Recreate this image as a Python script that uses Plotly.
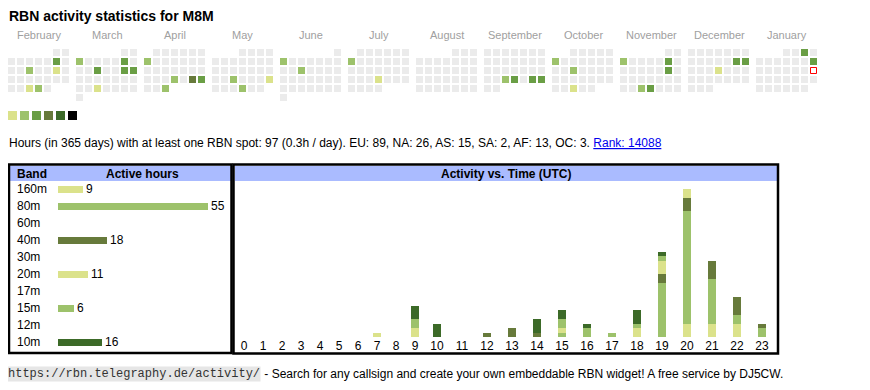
import datetime as dt
import plotly.graph_objects as go

OFF = 8                      # page body margin
W, H = 862, 382              # figure size inside the 870x390 window
FONT = "Liberation Sans, Arial, sans-serif"

# ---------------- data ----------------
title = "RBN activity statistics for M8M"
month_labels = ["February", "March", "April", "May", "June", "July", "August",
                "September", "October", "November", "December", "January"]
cal_start = "2025-02-01"
cal_end = "2026-01-31"
today = "2026-01-18"

active_dates = ["2025-02-08", "2025-02-12", "2025-02-15", "2025-02-26", "2025-02-27",
                "2025-03-03", "2025-03-08", "2025-03-12", "2025-03-15", "2025-03-16", "2025-03-26",
                "2025-04-07", "2025-04-24", "2025-04-26", "2025-04-27", "2025-04-30",
                "2025-05-21", "2025-05-25", "2025-05-29",
                "2025-06-02", "2025-06-11",
                "2025-07-07", "2025-07-24",
                "2025-09-24", "2025-09-25", "2025-09-27", "2025-09-28",
                "2025-10-06", "2025-10-15", "2025-10-29",
                "2025-11-03", "2025-11-08", "2025-11-15", "2025-11-26", "2025-11-27",
                "2025-12-13", "2025-12-14", "2025-12-18",
                "2026-01-03", "2026-01-11"]
active_levels = [3, 2, 1, 1, 2,
                 2, 3, 3, 3, 3, 1,
                 2, 2, 4, 3, 2,
                 2, 1, 2,
                 2, 2,
                 2, 1,
                 2, 3, 3, 3,
                 2, 2, 1,
                 2, 3, 3, 2, 3,
                 3, 3, 1,
                 3, 3]

level_colors = ["#dbe28b", "#9dc26b", "#6a9e45", "#677a3b", "#3c6a28", "#000000"]
empty_color = "#ebebeb"

summary = ("Hours (in 365 days) with at least one RBN spot: 97 (0.3h / day). "
           "EU: 89, NA: 26, AS: 15, SA: 2, AF: 13, OC: 3. ")
rank_text = "Rank: 14088"

bands = ["160m", "80m", "60m", "40m", "30m", "20m", "17m", "15m", "12m", "10m"]
band_hours = [9, 55, 0, 18, 0, 11, 0, 6, 0, 16]
band_colors = ["#dbe28b", "#9dc26b", "#6a9e45", "#677a3b", "#6a9e45",
               "#dbe28b", "#6a9e45", "#9dc26b", "#6a9e45", "#3c6a28"]

hours = list(range(24))
hourly = {
    "160m": [0]*20 + [3, 3, 3, 0],
    "80m":  [0]*15 + [1, 2, 1, 0, 12, 25, 10, 2, 2],
    "40m":  [0]*12 + [1, 2, 1, 0, 0, 0, 0, 2, 3, 4, 4, 1],
    "20m":  [0]*7 + [1, 0, 2, 0, 0, 0, 0, 0, 1, 0, 0, 2, 3, 2, 0, 0, 0],
    "15m":  [0]*9 + [2, 0, 0, 0, 0, 0, 2, 0, 0, 1, 1, 0, 0, 0, 0],
    "10m":  [0]*9 + [3, 3, 0, 0, 0, 3, 2, 1, 0, 3, 1, 0, 0, 0, 0],
}

footer_url = "https://rbn.telegraphy.de/activity/"
footer_text = " - Search for any callsign and create your own embeddable RBN widget! A free service by DJ5CW."

# ---------------- helpers (page pixel -> paper) ----------------
def px(x):
    return (x - OFF) / W

def py(y):
    return 1 - (y - OFF) / H

fig = go.Figure()

# ---------------- calendar ----------------
CAL_X0, CAL_Y0, PITCH, MONTH_PITCH, CELL = 8, 49, 9, 68, 7
start = dt.date.fromisoformat(cal_start)
end = dt.date.fromisoformat(cal_end)
lvl_of = {d: l for d, l in zip(active_dates, active_levels)}

xs, ys, cols, hov = [], [], [], []
d = start
while d <= end:
    m_idx = (d.year - start.year) * 12 + d.month - start.month
    first = d.replace(day=1)
    row = (d.day - 1 + first.weekday()) // 7
    xs.append(CAL_X0 + MONTH_PITCH * m_idx + PITCH * d.weekday() + CELL / 2)
    ys.append(CAL_Y0 + PITCH * row + CELL / 2)
    lv = lvl_of.get(d.isoformat())
    cols.append(level_colors[lv - 1] if lv else empty_color)
    hov.append(d.isoformat())
    d += dt.timedelta(days=1)

fig.add_trace(go.Scatter(x=xs, y=ys, mode="markers", text=hov, hoverinfo="text",
                         marker=dict(symbol="square", size=CELL, color=cols, line=dict(width=0)),
                         xaxis="x", yaxis="y", showlegend=False))

td = dt.date.fromisoformat(today)
t_m = (td.year - start.year) * 12 + td.month - start.month
t_row = (td.day - 1 + td.replace(day=1).weekday()) // 7
fig.add_trace(go.Scatter(x=[CAL_X0 + MONTH_PITCH * t_m + PITCH * td.weekday() + CELL / 2],
                         y=[CAL_Y0 + PITCH * t_row + CELL / 2], mode="markers",
                         marker=dict(symbol="square", size=CELL - 1, color="white",
                                     line=dict(width=1, color="#ff0000")),
                         xaxis="x", yaxis="y", showlegend=False, hoverinfo="skip"))

annotations = []
for i, name in enumerate(month_labels):
    annotations.append(dict(x=px(CAL_X0 + MONTH_PITCH * i + 31), y=py(35), xref="paper", yref="paper",
                            text=name, showarrow=False, xanchor="center", yanchor="middle",
                            font=dict(family=FONT, size=11, color="#a0a0a0")))

# colour legend squares
fig.add_trace(go.Scatter(x=[12.5 + 12 * i for i in range(len(level_colors))],
                         y=[115.5] * len(level_colors), mode="markers",
                         marker=dict(symbol="square", size=9, color=level_colors, line=dict(width=0)),
                         xaxis="x", yaxis="y", showlegend=False, hoverinfo="skip"))

# ---------------- band table ----------------
fig.add_trace(go.Bar(y=list(range(len(bands))), x=band_hours, orientation="h",
                     marker=dict(color=band_colors, line=dict(width=0)), width=0.42,
                     text=[str(v) if v else "" for v in band_hours], textposition="outside",
                     constraintext="none", cliponaxis=False,
                     textfont=dict(family=FONT, size=12, color="black"),
                     xaxis="x2", yaxis="y2", showlegend=False, hoverinfo="x"))

ROW0, ROWP = 189.3, 17
for i, b in enumerate(bands):
    annotations.append(dict(x=px(15), y=py(ROW0 + ROWP * i), xref="paper", yref="paper",
                            text=b, showarrow=False, xanchor="left", yanchor="middle",
                            font=dict(family=FONT, size=12, color="black")))

# ---------------- activity vs time ----------------
HX0 = 234.5
centers = []
acc = HX0
for h in hours:
    w = 13 + 6 * len(str(h))
    centers.append(acc + w / 2)
    acc += w

for b in ["160m", "80m", "40m", "20m", "15m", "10m"]:
    fig.add_trace(go.Bar(x=centers, y=hourly[b], width=8,
                         marker=dict(color=band_colors[bands.index(b)], line=dict(width=0)),
                         xaxis="x3", yaxis="y3", showlegend=False, name=b))

UNIT = 4.5
BASE = 337

shapes = []
shapes.append(dict(type="rect", xref="paper", yref="paper", x0=px(10), x1=px(231), y0=py(166), y1=py(181),
                   fillcolor="#aabbff", line=dict(width=0), layer="below"))
shapes.append(dict(type="rect", xref="paper", yref="paper", x0=px(235), x1=px(777), y0=py(166), y1=py(181),
                   fillcolor="#aabbff", line=dict(width=0), layer="below"))
shapes.append(dict(type="rect", xref="paper", yref="paper", x0=px(9), x1=px(231.5), y0=py(164.5), y1=py(353),
                   line=dict(width=2.5, color="black")))
shapes.append(dict(type="rect", xref="paper", yref="paper", x0=px(233.5), x1=px(778), y0=py(164.5), y1=py(353.5),
                   line=dict(width=2.5, color="black")))

annotations += [
    dict(x=px(15), y=py(173.5), text="<b>Band</b>", xanchor="left"),
    dict(x=px(142), y=py(173.5), text="<b>Active hours</b>", xanchor="center"),
    dict(x=px(506), y=py(173.5), text="<b>Activity vs. Time (UTC)</b>", xanchor="center"),
]
for a in annotations[-3:]:
    a.update(xref="paper", yref="paper", showarrow=False, yanchor="middle",
             font=dict(family=FONT, size=12, color="black"))

annotations.append(dict(x=px(7), y=py(16), xref="paper", yref="paper", showarrow=False,
                        xanchor="left", yanchor="middle", text="<b>" + title + "</b>",
                        font=dict(family=FONT, size=14, color="black")))
annotations.append(dict(x=px(7), y=py(142.5), xref="paper", yref="paper", showarrow=False,
                        xanchor="left", yanchor="middle",
                        text=summary + '<span style="color:#0000ee"><u>' + rank_text + '</u></span>',
                        font=dict(family=FONT, size=12, color="black")))
annotations.append(dict(x=px(7), y=py(374), xref="paper", yref="paper", showarrow=False,
                        xanchor="left", yanchor="middle", text=footer_url, bgcolor="#e6e6e6",
                        borderpad=0, font=dict(family="Liberation Mono, Courier New, monospace",
                                               size=12, color="#333333")))
annotations.append(dict(x=px(259), y=py(374), xref="paper", yref="paper", showarrow=False,
                        xanchor="left", yanchor="middle", text=footer_text,
                        font=dict(family=FONT, size=12, color="black")))

fig.update_layout(
    width=W, height=H, margin=dict(l=0, r=0, t=0, b=0),
    paper_bgcolor="white", plot_bgcolor="rgba(0,0,0,0)",
    barmode="stack", bargap=0,
    xaxis=dict(domain=[0, 1], range=[OFF, OFF + W], visible=False, fixedrange=True),
    yaxis=dict(domain=[0, 1], range=[OFF + H, OFF], visible=False, fixedrange=True),
    xaxis2=dict(domain=[px(58), px(208)], range=[0, 55], visible=False, fixedrange=True, anchor="y2"),
    yaxis2=dict(domain=[py(180.8 + 17 * 10), py(180.8)], range=[9.5, -0.5], visible=False,
                fixedrange=True, anchor="x2"),
    xaxis3=dict(domain=[px(234), px(778)], range=[234, 778], anchor="y3", fixedrange=True,
                tickvals=centers, ticktext=[str(h) for h in hours], showgrid=False, zeroline=False,
                showline=False, ticks="", tickfont=dict(family=FONT, size=12, color="black")),
    yaxis3=dict(domain=[py(BASE), py(182)], range=[0, (BASE - 182) / UNIT], anchor="x3",
                visible=False, fixedrange=True),
    shapes=shapes, annotations=annotations,
    hovermode="closest",
)

fig.write_html("out.html")
